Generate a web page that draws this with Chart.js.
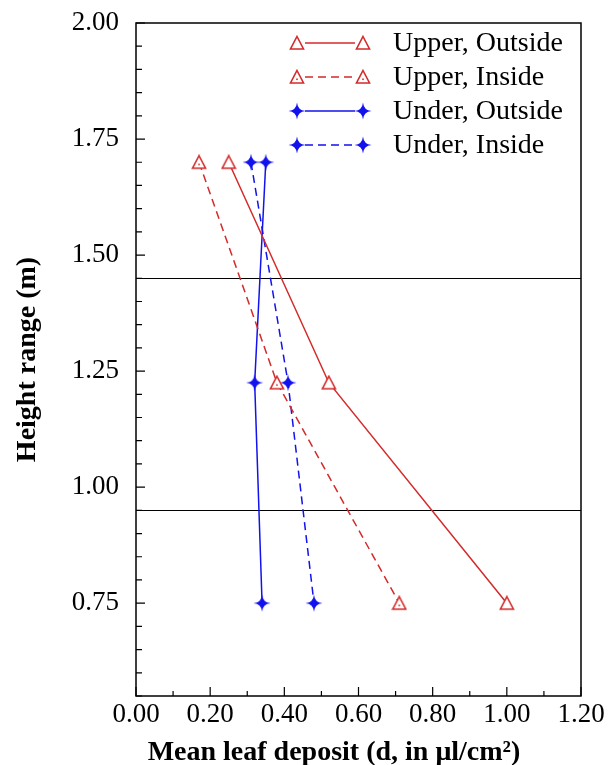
<!DOCTYPE html>
<html>
<head>
<meta charset="utf-8">
<script src="https://cdn.jsdelivr.net/npm/chart.js@4"></script>
<style>
  html, body { margin: 0; padding: 0; background: #fff; }
  #wrap { width: 609px; height: 765px; }
</style>
</head>
<body>
<div id="wrap"><canvas id="chart-deposit"></canvas></div>
<script>
// --- DATA ---
const heights = [1.70, 1.225, 0.75];
const upperOutside = [0.25, 0.52, 1.00];
const upperInside = [0.17, 0.38, 0.71];
const underOutside = [0.35, 0.32, 0.34];
const underInside = [0.31, 0.41, 0.48];
const seriesNames = ['Upper, Outside', 'Upper, Inside', 'Under, Outside', 'Under, Inside'];
const xTicks = [0.00, 0.20, 0.40, 0.60, 0.80, 1.00, 1.20];
const yTicks = [0.75, 1.00, 1.25, 1.50, 1.75, 2.00];
const zoneLines = [1.45, 0.95];
const xTitle = 'Mean leaf deposit (d, in μl/cm²)';

const RED = '#d42a2a';
const BLUE = '#1212ee';
const FONT = "'Liberation Serif', 'Times New Roman', serif";

// marker images
function makeTriangle(dot) {
    const c = document.createElement('canvas');
    c.width = 16; c.height = 16;
    const g = c.getContext('2d');
    g.beginPath();
    g.moveTo(8, 1.5);
    g.lineTo(14.5, 14);
    g.lineTo(1.5, 14);
    g.closePath();
    g.fillStyle = '#fff';
    g.fill();
    g.strokeStyle = RED;
    g.lineWidth = 1.6;
    g.stroke();
    if (dot) {
        g.fillStyle = RED;
        g.fillRect(7.2, 9.5, 1.6, 1.6);
    }
    return c;
}
function makeStar() {
    const c = document.createElement('canvas');
    c.width = 18; c.height = 18;
    const g = c.getContext('2d');
    const cx = 9, cy = 9, r = 8.5, k = 2.4;
    g.beginPath();
    g.moveTo(cx, cy - r);
    g.quadraticCurveTo(cx + k * 0.3, cy - k * 0.3, cx + r, cy);
    g.quadraticCurveTo(cx + k * 0.3, cy + k * 0.3, cx, cy + r);
    g.quadraticCurveTo(cx - k * 0.3, cy + k * 0.3, cx - r, cy);
    g.quadraticCurveTo(cx - k * 0.3, cy - k * 0.3, cx, cy - r);
    g.closePath();
    g.fillStyle = BLUE;
    g.fill();
    g.beginPath();
    g.arc(cx, cy, 2.8, 0, Math.PI * 2);
    g.fill();
    return c;
}
const triOut = makeTriangle(false);
const triIn = makeTriangle(true);
const star = makeStar();

function series(xs) {
    return xs.map((x, i) => ({ x: x, y: heights[i] }));
}

function ds(label, xs, color, dashed, marker) {
    return {
        label: label,
        data: series(xs),
        showLine: true,
        borderColor: color,
        borderWidth: 1.5,
        borderDash: dashed ? [8, 5] : [],
        pointStyle: marker,
        pointRadius: 8,
        pointHoverRadius: 8,
        backgroundColor: color,
        fill: false,
        tension: 0
    };
}

// frame, ticks, zone lines, x title and legend
const framePlugin = {
    id: 'frame',
    beforeDatasetsDraw(chart) {
        const { ctx, chartArea: a, scales: { y } } = chart;
        ctx.save();
        ctx.strokeStyle = '#000';
        ctx.lineWidth = 1.2;
        zoneLines.forEach(v => {
            const py = Math.round(y.getPixelForValue(v)) + 0.5;
            ctx.beginPath();
            ctx.moveTo(a.left, py);
            ctx.lineTo(a.right, py);
            ctx.stroke();
        });
        ctx.restore();
    },
    afterDraw(chart) {
        const { ctx, chartArea: a, scales: { x, y } } = chart;
        ctx.save();
        ctx.strokeStyle = '#000';
        ctx.lineWidth = 1.5;
        ctx.strokeRect(a.left, a.top, a.right - a.left, a.bottom - a.top);

        ctx.lineWidth = 1.2;
        ctx.beginPath();
        // x ticks (major + minor halfway)
        xTicks.forEach((v, i) => {
            const px = x.getPixelForValue(v);
            ctx.moveTo(px, a.bottom); ctx.lineTo(px, a.bottom - 9);
            if (i < xTicks.length - 1) {
                const m = x.getPixelForValue((v + xTicks[i + 1]) / 2);
                ctx.moveTo(m, a.bottom); ctx.lineTo(m, a.bottom - 5);
            }
        });
        // y ticks (major + minor every 0.05)
        for (let v = y.min; v <= y.max + 1e-6; v += 0.05) {
            const isMajor = yTicks.some(t => Math.abs(t - v) < 1e-6);
            const py = y.getPixelForValue(v);
            ctx.moveTo(a.left, py); ctx.lineTo(a.left + (isMajor ? 9 : 6), py);
        }
        ctx.stroke();

        // x title, sits a bit left of centre like the original
        ctx.fillStyle = '#000';
        ctx.font = 'bold 28px ' + FONT;
        ctx.textAlign = 'center';
        ctx.textBaseline = 'alphabetic';
        ctx.fillText(xTitle, 334, 760);

        // legend
        const styles = chart.data.datasets;
        const x1 = 297, x2 = 363, tx = 393;
        ctx.font = '28px ' + FONT;
        ctx.textAlign = 'left';
        ctx.textBaseline = 'middle';
        styles.forEach((d, i) => {
            const ly = 43 + i * 34;
            ctx.strokeStyle = d.borderColor;
            ctx.lineWidth = 1.5;
            ctx.setLineDash(d.borderDash);
            ctx.beginPath();
            ctx.moveTo(x1 + 8, ly); ctx.lineTo(x2 - 8, ly);
            ctx.stroke();
            ctx.setLineDash([]);
            const img = d.pointStyle;
            ctx.drawImage(img, x1 - img.width / 2, ly - img.height / 2);
            ctx.drawImage(img, x2 - img.width / 2, ly - img.height / 2);
            ctx.fillText(d.label, tx, ly + 1);
        });
        ctx.restore();
    }
};

new Chart(document.getElementById('chart-deposit'), {
    type: 'scatter',
    data: {
        datasets: [
            ds(seriesNames[0], upperOutside, RED, false, triOut),
            ds(seriesNames[1], upperInside, RED, true, triIn),
            ds(seriesNames[2], underOutside, BLUE, false, star),
            ds(seriesNames[3], underInside, BLUE, true, star)
        ]
    },
    options: {
        responsive: true,
        maintainAspectRatio: false,
        animation: false,
        layout: { padding: { top: 23, right: 28, left: 0, bottom: 0 } },
        plugins: { legend: { display: false }, tooltip: { enabled: false } },
        scales: {
            x: {
                type: 'linear',
                min: 0,
                max: 1.2,
                grid: { display: false, drawTicks: false },
                border: { display: false },
                afterBuildTicks: s => { s.ticks = xTicks.map(v => ({ value: v })); },
                afterFit: s => { s.height = 69; s.paddingLeft = 0; s.paddingRight = 0; },
                ticks: {
                    color: '#000',
                    padding: 3,
                    maxRotation: 0,
                    font: { family: FONT, size: 27 },
                    callback: v => Number(v).toFixed(2)
                },
                title: { display: false }
            },
            y: {
                type: 'linear',
                min: 0.55,
                max: 2.0,
                grid: { display: false, drawTicks: false },
                border: { display: false },
                afterBuildTicks: s => { s.ticks = yTicks.map(v => ({ value: v })); },
                afterFit: s => { s.width = 136; s.paddingTop = 0; s.paddingBottom = 0; },
                ticks: {
                    color: '#000',
                    padding: 17,
                    font: { family: FONT, size: 27 },
                    callback: v => Number(v).toFixed(2)
                },
                title: {
                    display: true,
                    text: 'Height range (m)',
                    color: '#000',
                    padding: { top: 11, bottom: 0 },
                    font: { family: FONT, size: 28, weight: 'bold' }
                }
            }
        }
    },
    plugins: [framePlugin]
});
</script>
</body>
</html>
